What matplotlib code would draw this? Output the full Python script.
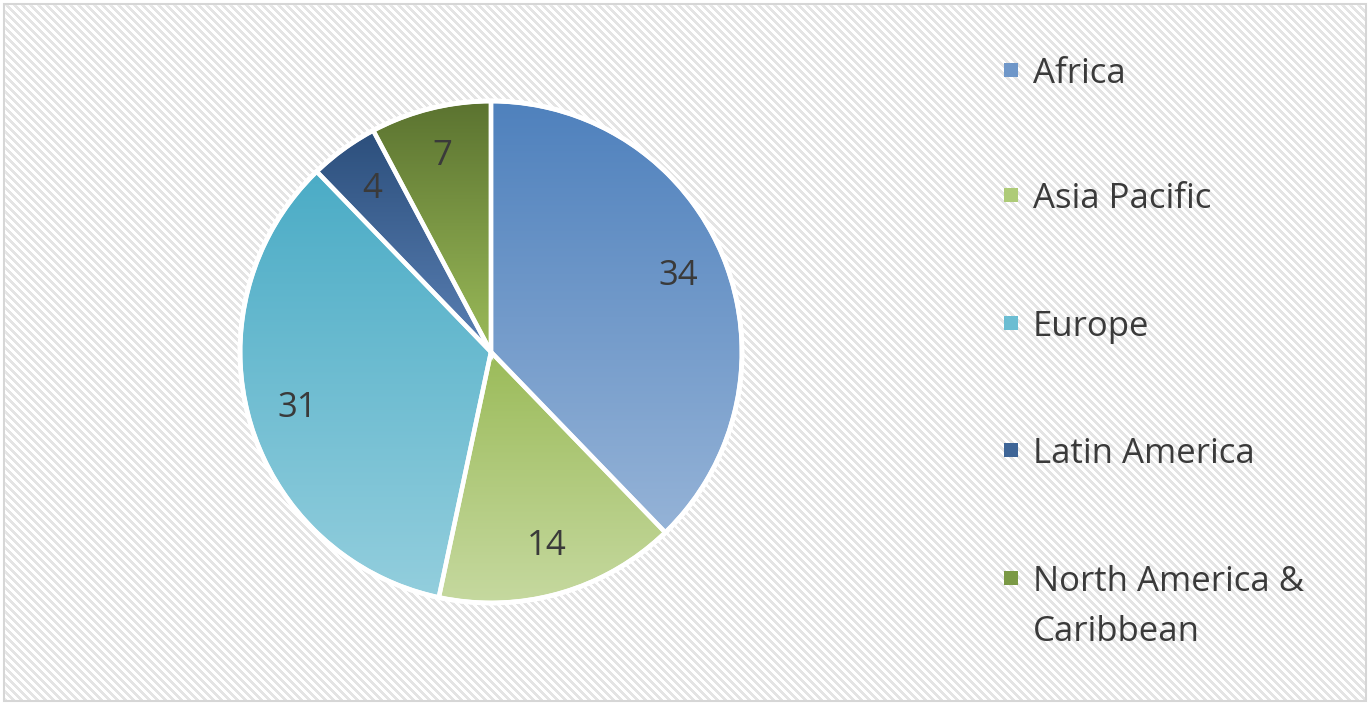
import numpy as np
import matplotlib
matplotlib.use("Agg")
import matplotlib.pyplot as plt
from matplotlib.colors import to_rgb
from matplotlib.patches import Rectangle

categories = ["Africa", "Asia Pacific", "Europe", "Latin America", "North America &\nCaribbean"]
values = [34, 14, 31, 4, 7]
top_colors = ["#4f81bd", "#9bbb59", "#4bacc6", "#2c4f7c", "#5b7330"]
bottom_colors = ["#95b3d7", "#c6d9a0", "#93cedd", "#5a80b4", "#9bbb59"]
legend_colors = ["#6f97c9", "#aecb78", "#6bbdd2", "#3e6597", "#7a9945"]

W, H = 1370, 705
fig = plt.figure(figsize=(W / 100, H / 100), dpi=100)
fig.patch.set_facecolor("white")

# striped background
bg = fig.add_axes([0, 0, 1, 1], zorder=0)
yy, xx = np.mgrid[0:H, 0:W]
stripe = ((xx - yy) % 8) < 4
img = np.ones((H, W, 3))
img[stripe] = to_rgb("#e4e4e4")
bg.imshow(img, extent=[0, W, H, 0], interpolation="nearest", aspect="auto")
bg.add_patch(Rectangle((0, 0), W, 4, color="white"))
bg.add_patch(Rectangle((0, H - 4), W, 4, color="white"))
bg.add_patch(Rectangle((0, 0), 4, H, color="white"))
bg.add_patch(Rectangle((W - 4, 0), 4, H, color="white"))
bg.add_patch(Rectangle((4, 4), W - 8, H - 8, fill=False, edgecolor="#d6d6d6", linewidth=1.5))
bg.set_xlim(0, W)
bg.set_ylim(H, 0)
bg.axis("off")

# pie axes
cx, cy, R = 491, 352, 251
L = 1.02
Ra = R * L
ax = fig.add_axes([(cx - Ra) / W, (H - cy - Ra) / H, 2 * Ra / W, 2 * Ra / H], zorder=1)
ax.patch.set_alpha(0)
wedges, texts = ax.pie(values, startangle=90, counterclock=False, radius=1,
                       labels=[str(v) for v in values], labeldistance=0.805,
                       wedgeprops=dict(edgecolor="white", linewidth=3.2, facecolor="none"),
                       textprops=dict(fontsize=25, color="#3a3a3a", family="Open Sans"))
for t in texts:
    t.set_ha("center")
    t.set_va("center")
    t.set_zorder(5)

for w, c1, c2 in zip(wedges, top_colors, bottom_colors):
    v = w.get_path().vertices
    x0, x1 = v[:, 0].min(), v[:, 0].max()
    y0, y1 = v[:, 1].min(), v[:, 1].max()
    a = np.array(to_rgb(c1))
    b = np.array(to_rgb(c2))
    t = np.linspace(0, 1, 256)[:, None]
    grad = (a[None, :] * (1 - t) + b[None, :] * t)[:, None, :]
    im = ax.imshow(grad, extent=[x0, x1, y0, y1], origin="upper", aspect="auto",
                   interpolation="bilinear", zorder=1)
    im.set_clip_path(w)
    w.set_zorder(3)

circ = plt.Circle((0, 0), 1.0, fill=False, edgecolor="white", linewidth=3.5, zorder=4)
ax.add_patch(circ)
ax.set_xlim(-L, L)
ax.set_ylim(-L, L)
ax.set_aspect("equal")
ax.axis("off")

# legend
baselines = [83, 208, 336, 463, 591]
line_gap = 50
for cat, col, yb in zip(categories, legend_colors, baselines):
    yc = yb - 13
    fig.patches.append(Rectangle((1004 / W, 1 - (yc + 7) / H), 14 / W, 14 / H,
                                 transform=fig.transFigure, facecolor=col,
                                 edgecolor="none", zorder=3))
    for i, line in enumerate(cat.split("\n")):
        fig.text(1033 / W, 1 - (yb + i * line_gap) / H, line, fontsize=25, color="#3a3a3a",
                 family="Open Sans", va="baseline", ha="left", zorder=3)

fig.savefig("out.png", dpi=100)
